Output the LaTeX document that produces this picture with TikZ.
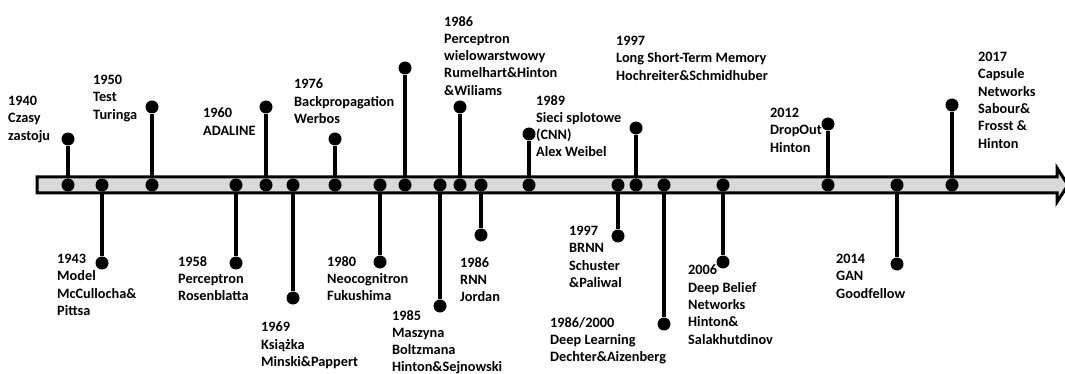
\documentclass[tikz,border=0pt]{standalone}
\usepackage{fontspec}
\setmainfont{Carlito}

\begin{document}
\begin{tikzpicture}[x=1pt, y=-1pt,
		dot_style/.style={circle,fill=black,inner sep=0pt,minimum size=13pt},
		stem_style/.style={draw=black,line width=3.5pt},
		label_style/.style={anchor=north west,align=left,inner sep=0pt,
			font=\fontsize{14.3}{17.3}\selectfont\bfseries}]
		
		\useasboundingbox (0,0) rectangle (1065,374);
		
		% time axis
		\draw[line width=3pt, fill=black!15] (37,177) -- (1057,177) -- (1057,168) -- (1068,185)
			-- (1057,202) -- (1057,193) -- (37,193) -- cycle;
		
		% dots on the axis
		\node[dot_style] (b1) at (68,185) {};
		\node[dot_style] (b2) at (102,185) {};
		\node[dot_style] (b3) at (152,185) {};
		\node[dot_style] (b4) at (236,185) {};
		\node[dot_style] (b5) at (266,185) {};
		\node[dot_style] (b6) at (293,185) {};
		\node[dot_style] (b7) at (335,185) {};
		\node[dot_style] (b8) at (380,185) {};
		\node[dot_style] (b9) at (405,185) {};
		\node[dot_style] (b10) at (440,185) {};
		\node[dot_style] (b11) at (460,185) {};
		\node[dot_style] (b12) at (481,185) {};
		\node[dot_style] (b13) at (529,185) {};
		\node[dot_style] (b14) at (618,185) {};
		\node[dot_style] (b15) at (636,185) {};
		\node[dot_style] (b16) at (664,185) {};
		\node[dot_style] (b17) at (723,185) {};
		\node[dot_style] (b18) at (828,185) {};
		\node[dot_style] (b19) at (897,185) {};
		\node[dot_style] (b20) at (952,185) {};
		
		% stem ends
		\node[dot_style] (t1) at (68,139) {};
		\node[dot_style] (t2) at (102,263) {};
		\node[dot_style] (t3) at (152,107) {};
		\node[dot_style] (t4) at (236,263) {};
		\node[dot_style] (t5) at (266,107) {};
		\node[dot_style] (t6) at (293,298) {};
		\node[dot_style] (t7) at (335,139) {};
		\node[dot_style] (t8) at (380,262) {};
		\node[dot_style] (t9) at (405,68) {};
		\node[dot_style] (t10) at (440,306) {};
		\node[dot_style] (t11) at (460,107) {};
		\node[dot_style] (t12) at (481,235) {};
		\node[dot_style] (t13) at (529,134) {};
		\node[dot_style] (t14) at (618,236) {};
		\node[dot_style] (t15) at (636,128) {};
		\node[dot_style] (t16) at (664,324) {};
		\node[dot_style] (t17) at (723,262) {};
		\node[dot_style] (t18) at (828,124) {};
		\node[dot_style] (t19) at (897,264) {};
		\node[dot_style] (t20) at (952,105) {};
		
		\draw[stem_style] (b1) -- (t1);
		\draw[stem_style] (b2) -- (t2);
		\draw[stem_style] (b3) -- (t3);
		\draw[stem_style] (b4) -- (t4);
		\draw[stem_style] (b5) -- (t5);
		\draw[stem_style] (b6) -- (t6);
		\draw[stem_style] (b7) -- (t7);
		\draw[stem_style] (b8) -- (t8);
		\draw[stem_style] (b9) -- (t9);
		\draw[stem_style] (b10) -- (t10);
		\draw[stem_style] (b11) -- (t11);
		\draw[stem_style] (b12) -- (t12);
		\draw[stem_style] (b13) -- (t13);
		\draw[stem_style] (b14) -- (t14);
		\draw[stem_style] (b15) -- (t15);
		\draw[stem_style] (b16) -- (t16);
		\draw[stem_style] (b17) -- (t17);
		\draw[stem_style] (b18) -- (t18);
		\draw[stem_style] (b19) -- (t19);
		\draw[stem_style] (b20) -- (t20);
		
		% labels
		\node[label_style] (l1) at (8,96) {1940\\Czasy\\zastoju};
		\node[label_style] (l2) at (57,254) {1943\\Model\\McCullocha\&\\Pittsa};
		\node[label_style] (l3) at (93,75) {1950\\Test\\Turinga};
		\node[label_style] (l4) at (178,256) {1958\\Perceptron\\Rosenblatta};
		\node[label_style] (l5) at (203,108) {1960\\ADALINE};
		\node[label_style] (l6) at (261,322) {1969\\Książka\\Minski\&Pappert};
		\node[label_style] (l7) at (294,79) {1976\\Backpropagation\\Werbos};
		\node[label_style] (l8) at (327,256) {1980\\Neocognitron\\Fukushima};
		\node[label_style] (l10) at (392,310) {1985\\Maszyna\\Boltzmana\\Hinton\&Sejnowski};
		\node[label_style] (l11) at (444,16) {1986\\Perceptron\\wielowarstwowy\\Rumelhart\&Hinton\\\&Wiliams};
		\node[label_style] (l12) at (460,257) {1986\\RNN\\Jordan};
		\node[label_style] (l13) at (536,95) {1989\\Sieci splotowe\\(CNN)\\Alex Weibel};
		\node[label_style] (l14) at (569,226) {1997\\BRNN\\Schuster\\\&Paliwal};
		\node[label_style] (l15) at (616,36) {1997\\Long Short-Term Memory\\Hochreiter\&Schmidhuber};
		\node[label_style] (l16) at (550,317) {1986/2000\\Deep Learning\\Dechter\&Aizenberg};
		\node[label_style] (l17) at (688,265) {2006\\Deep Belief\\Networks\\Hinton\&\\Salakhutdinov};
		\node[label_style] (l18) at (770,108) {2012\\DropOut\\Hinton};
		\node[label_style] (l19) at (836,254) {2014\\GAN\\Goodfellow};
		\node[label_style] (l20) at (978,52) {2017\\Capsule\\Networks\\Sabour\&\\Frosst \&\\Hinton};
		
		\end{tikzpicture}
\end{document}
